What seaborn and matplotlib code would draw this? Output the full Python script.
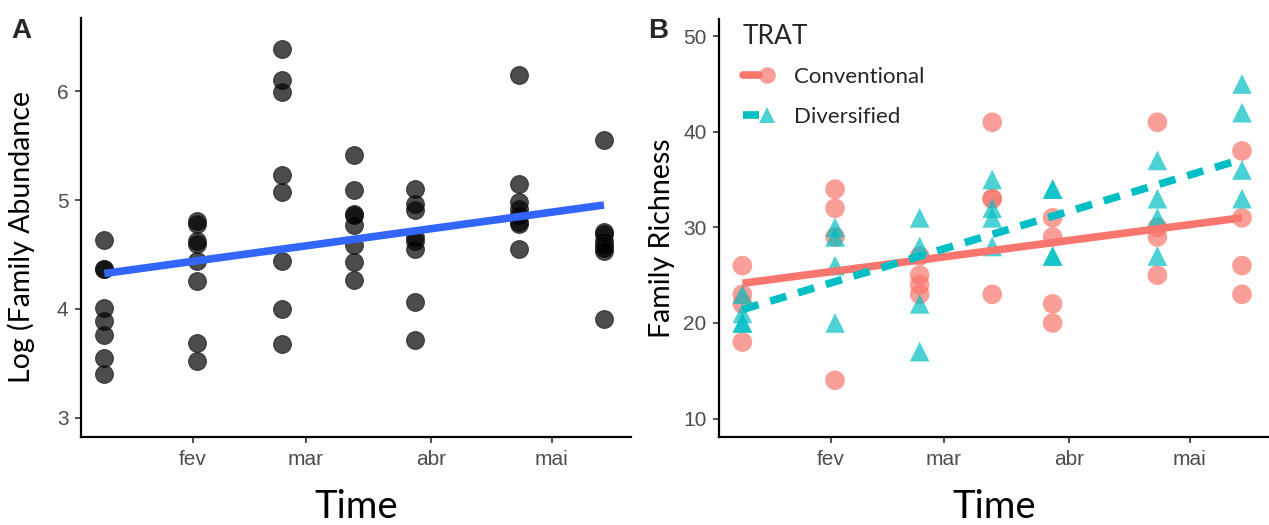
import pandas as pd
import matplotlib
matplotlib.use('Agg')
import matplotlib.pyplot as plt
import matplotlib.dates as mdates
from matplotlib.lines import Line2D
from matplotlib.legend_handler import HandlerTuple
import seaborn as sns

# sampling dates and month ticks
dates = ['2019-01-10', '2019-02-02', '2019-02-23', '2019-03-13',
         '2019-03-28', '2019-04-23', '2019-05-14']
month_ticks = ['2019-02-01', '2019-03-01', '2019-04-01', '2019-05-01']
month_labels = ['fev', 'mar', 'abr', 'mai']

# panel A: log family abundance, 8 samples per date
abundance = [
    [4.63, 4.37, 4.37, 4.01, 3.89, 3.76, 3.55, 3.40],
    [4.81, 4.78, 4.62, 4.60, 4.44, 4.26, 3.69, 3.52],
    [6.39, 6.10, 5.99, 5.23, 5.07, 4.44, 4.00, 3.68],
    [5.41, 5.09, 4.87, 4.86, 4.77, 4.59, 4.43, 4.27],
    [5.10, 4.96, 4.91, 4.66, 4.62, 4.55, 4.06, 3.71],
    [6.15, 5.15, 4.98, 4.92, 4.86, 4.80, 4.78, 4.55],
    [5.55, 4.71, 4.69, 4.62, 4.59, 4.56, 4.53, 3.91],
]

# panel B: family richness by treatment, 4 samples per date
conventional = [
    [26, 23, 22, 18],
    [34, 32, 29, 14],
    [27, 25, 24, 23],
    [41, 33, 33, 23],
    [31, 29, 22, 20],
    [41, 30, 29, 25],
    [38, 31, 26, 23],
]
diversified = [
    [23, 21, 20, 20],
    [30, 29, 26, 20],
    [31, 28, 22, 17],
    [35, 32, 31, 28],
    [34, 34, 27, 27],
    [37, 33, 31, 27],
    [45, 42, 36, 33],
]

trat_names = ['Conventional', 'Diversified']
trat_colors = {'Conventional': '#F8766D', 'Diversified': '#00BFC4'}

date_num = mdates.date2num(pd.to_datetime(dates))
rows_a = [(date_num[i], v) for i, vals in enumerate(abundance) for v in vals]
df_a = pd.DataFrame(rows_a, columns=['t', 'abund'])

rows_b = []
for name, series in zip(trat_names, [conventional, diversified]):
    for i, vals in enumerate(series):
        for v in vals:
            rows_b.append((date_num[i], v, name))
df_b = pd.DataFrame(rows_b, columns=['t', 'rich', 'TRAT'])

sns.set_theme(style='ticks')
plt.rcParams['font.family'] = ['Liberation Sans', 'DejaVu Sans']

fig = plt.figure(figsize=(12.69, 5.25), dpi=100)
feb1 = mdates.date2num(pd.Timestamp('2019-02-01'))
xlim = (feb1 - 27.8, feb1 + 108.7)
tick_pos = mdates.date2num(pd.to_datetime(month_ticks))


def style_axes(ax):
    for s in ['top', 'right']:
        ax.spines[s].set_visible(False)
    for s in ['left', 'bottom']:
        ax.spines[s].set_color('black')
        ax.spines[s].set_linewidth(1.6)
    ax.set_xlim(*xlim)
    ax.set_xticks(tick_pos)
    ax.set_xticklabels(month_labels)
    ax.tick_params(axis='both', length=4, width=1.2, color='#333333',
                   labelcolor='#4D4D4D', labelsize=15, pad=5)
    ax.set_xlabel('Time', fontsize=27.5, fontfamily='Lato', color='black')
    ax.xaxis.set_label_coords(0.5, -0.193)
    ax.xaxis.label.set_va('baseline')


# ---- panel A
ax1 = fig.add_axes([0.0638, 0.167, 0.4334, 0.798])
sns.regplot(data=df_a, x='t', y='abund', ci=None, ax=ax1, color='black',
            scatter_kws=dict(s=165, alpha=0.7, edgecolor='#1a1a1a', linewidths=0.8),
            line_kws=dict(color='#3366FF', lw=5.5, solid_capstyle='butt'))
style_axes(ax1)
ax1.set_ylim(2.82, 6.67)
ax1.set_yticks([3, 4, 5, 6])
ax1.set_ylabel('Log (Family Abundance', fontsize=20.5, fontfamily='Lato', color='black')
ax1.yaxis.set_label_coords(-0.083, 0.477)
fig.text(11 / 1269, 1 - 38 / 525, 'A', fontsize=20, fontweight='bold', va='baseline')

# ---- panel B
ax2 = fig.add_axes([0.5666, 0.1676, 0.4334, 0.7962])
sns.scatterplot(data=df_b, x='t', y='rich', hue='TRAT', style='TRAT',
                markers={'Conventional': 'o', 'Diversified': '^'},
                palette=trat_colors, s=200, alpha=0.7, edgecolor='none',
                legend=False, ax=ax2)
for name, ls in zip(trat_names, ['-', (0, (2.2, 1.6))]):
    sub = df_b[df_b['TRAT'] == name]
    sns.regplot(data=sub, x='t', y='rich', scatter=False, ci=None, ax=ax2,
                line_kws=dict(color=trat_colors[name], lw=5.5, linestyle=ls,
                              solid_capstyle='butt', dash_capstyle='butt'))
style_axes(ax2)
ax2.set_ylim(8.07, 51.8)
ax2.set_yticks([10, 20, 30, 40, 50])
ax2.set_ylabel('Family Richness', fontsize=20.5, fontfamily='Lato', color='black')
ax2.yaxis.set_label_coords(-0.08, 0.475)
fig.text(648 / 1269, 1 - 38 / 525, 'B', fontsize=20, fontweight='bold', va='baseline')

handles = []
for name, mk, ls in zip(trat_names, ['o', '^'], ['-', (0, (2.2, 1.6))]):
    ln = Line2D([], [], color=trat_colors[name], lw=5.5, linestyle=ls)
    pt = Line2D([], [], color=trat_colors[name], marker=mk, markersize=12,
                linestyle='none', alpha=0.7, markeredgewidth=0)
    handles.append((ln, pt))
leg = ax2.legend(handles, trat_names, title='TRAT', loc='upper left',
                 bbox_to_anchor=(0.015, 1.025), frameon=False,
                 handler_map={tuple: HandlerTuple(ndivide=None, pad=0)},
                 handlelength=1.45, handletextpad=0.85, labelspacing=0.9,
                 prop={'family': 'Lato', 'size': 16},
                 title_fontproperties={'family': 'Lato', 'size': 19},
                 alignment='left', borderpad=0.2)
leg._legend_box.sep = 13

fig.savefig('out.png', dpi=100)
